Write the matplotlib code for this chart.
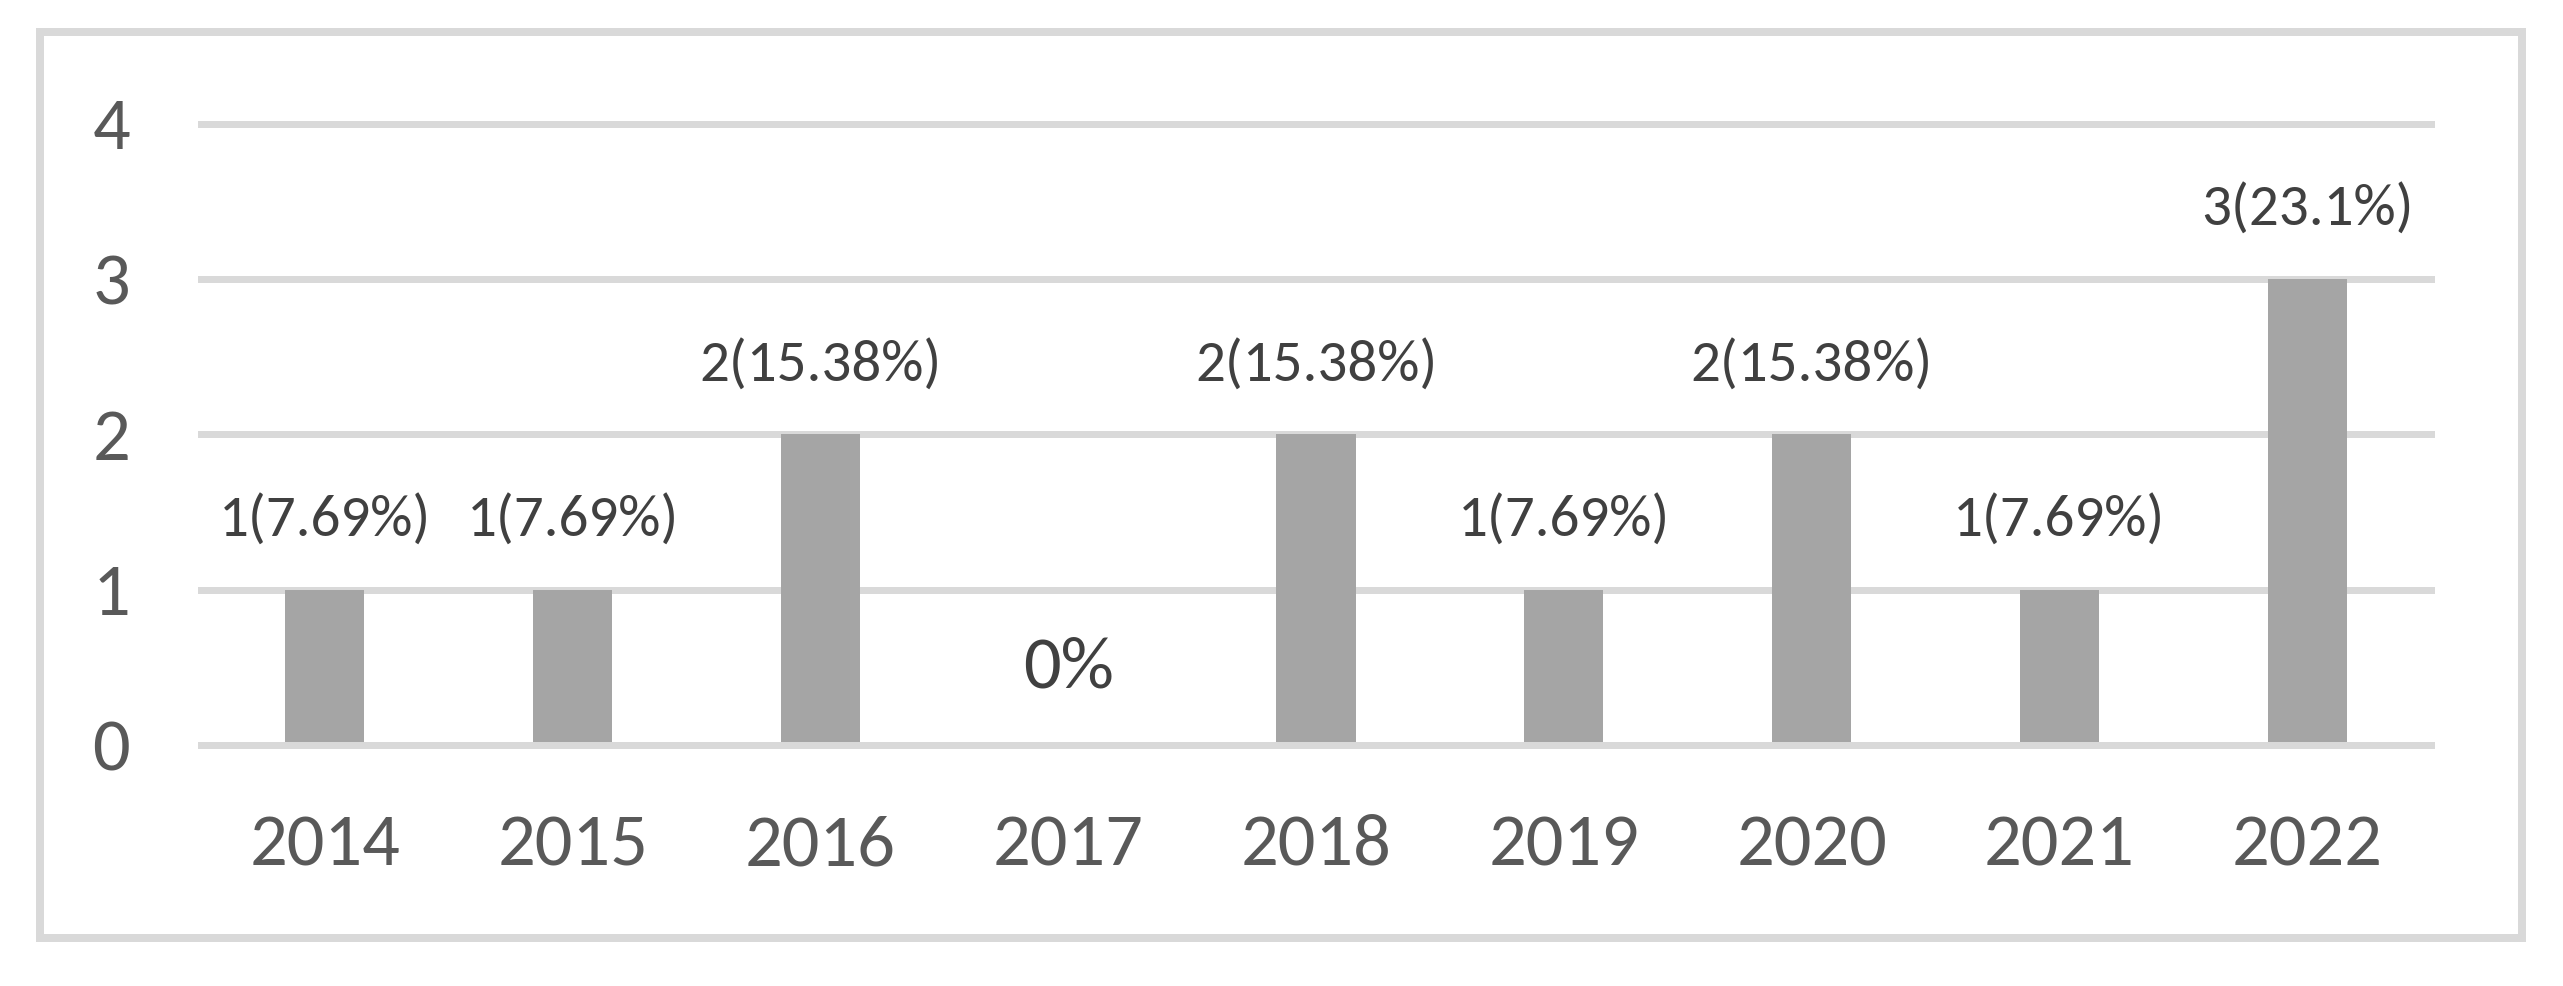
import matplotlib
matplotlib.use("Agg")
import matplotlib.pyplot as plt
from matplotlib import font_manager
from matplotlib.patches import Rectangle

years = ["2014", "2015", "2016", "2017", "2018", "2019", "2020", "2021", "2022"]
counts = [1, 1, 2, 0, 2, 1, 2, 1, 3]
value_labels = ["1(7.69%)", "1(7.69%)", "2(15.38%)", "0%", "2(15.38%)",
                "1(7.69%)", "2(15.38%)", "1(7.69%)", "3(23.1%)"]
y_ticks = [0, 1, 2, 3, 4]

available = {f.name for f in font_manager.fontManager.ttflist}
if "Carlito" in available:
    family = "Carlito"
    cap = 0.644
else:
    family = "Lato"
    cap = 0.7165
plt.rcParams["font.family"] = [family, "DejaVu Sans"]

DPI = 100
W, H = 2563, 986
px2pt = 72.0 / DPI

def size_for(digit_px):
    return digit_px / cap * px2pt

fig = plt.figure(figsize=(W / DPI, H / DPI), dpi=DPI)
fig.patch.set_facecolor("white")

# outer chart border
border = Rectangle((40 / W, 1 - 938 / H), (2522 - 40) / W, (938 - 31.5) / H,
                   transform=fig.transFigure, fill=False, edgecolor="#d9d9d9",
                   linewidth=8 * px2pt, zorder=0)
fig.patches.append(border)

left, right = 201 / W, 2431 / W
bottom, top = 1 - 745 / H, 1 - 123.5 / H
ax = fig.add_axes([left, bottom, right - left, top - bottom])
ax.set_facecolor("none")

x = list(range(len(years)))
ax.bar(x, counts, width=0.319, color="#a5a5a5", zorder=2)

for yv in y_ticks:
    ax.axhline(yv, color="#d9d9d9", linewidth=7 * px2pt,
               zorder=3 if yv == 0 else 1, clip_on=False)

ax.set_xlim(-0.5, len(years) - 0.5)
ax.set_ylim(0, 4)
for s in ax.spines.values():
    s.set_visible(False)

ax.set_yticks(y_ticks)
ax.set_yticklabels([str(v) for v in y_ticks])
ax.tick_params(axis="y", length=0, pad=71 * px2pt, labelsize=size_for(48),
               labelcolor="#595959")
ax.set_xticks(x)
ax.set_xticklabels(years)
ax.tick_params(axis="x", length=0, pad=120 * px2pt, labelsize=size_for(48),
               labelcolor="#595959")
for t in ax.get_xticklabels():
    t.set_verticalalignment("baseline")

for xi, c, lab in zip(x, counts, value_labels):
    if c == 0:
        fs = size_for(48)
        off = 57
    else:
        fs = size_for(38)
        off = 53
    ax.annotate(lab, (xi, c), xytext=(0, off * px2pt), textcoords="offset points",
                ha="center", va="baseline", fontsize=fs, color="#404040",
                annotation_clip=False)

fig.savefig("out.png", dpi=DPI, facecolor="white")
